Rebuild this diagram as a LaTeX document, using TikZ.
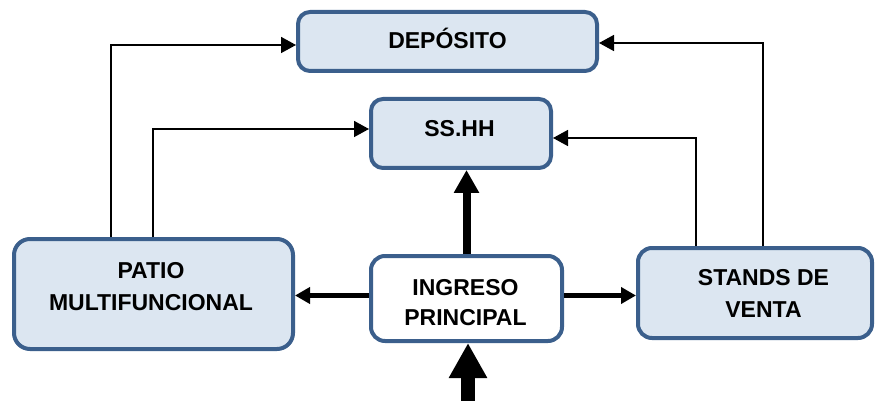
\documentclass[tikz,border=0pt]{standalone}
\usepackage{fontspec}
\setmainfont{Liberation Sans}
\usetikzlibrary{arrows.meta}
\definecolor{boxborder}{HTML}{3B5F8C}
\definecolor{boxfill}{HTML}{DCE6F1}
\tikzset{
  box/.style={draw=boxborder, line width=4pt, fill=boxfill, rounded corners=12pt,
    inner sep=0pt, shape=rectangle},
  whitebox/.style={box, fill=white},
  lbl/.style={inner sep=0pt, anchor=base, align=center},
  thinarrow/.style={draw=black, line width=1.6pt,
    -{Triangle[length=15pt,width=16pt]}},
  midarrow/.style={draw=black, line width=5.5pt,
    -{Triangle[length=15pt,width=16pt]}},
  bigarrow/.style={draw=black, line width=8pt,
    -{Triangle[length=23pt,width=24pt]}},
  hugearrow/.style={draw=black, line width=14pt,
    -{Triangle[length=35pt,width=36pt]}}
}
\begin{document}
\begin{tikzpicture}[x=1pt,y=-1pt,
  every node/.style={font=\fontsize{23}{32}\selectfont\bfseries}]
\useasboundingbox (0,0) rectangle (876,401);
% boxes
\node[box, minimum width=299pt, minimum height=59pt] (DEP) at (447.5,41.5) {};
\node[box, minimum width=180pt, minimum height=69pt] (SS) at (461,133.5) {};
\node[box, minimum width=279pt, minimum height=110pt, rounded corners=16pt] (PATIO) at (153.5,294) {};
\node[whitebox, minimum width=191pt, minimum height=85pt, rounded corners=14pt] (ING) at (466.5,298.5) {};
\node[box, minimum width=234pt, minimum height=90pt, rounded corners=14pt] (STANDS) at (755,293) {};
% labels
\node[lbl] (tDEP) at (447.5,49) {DEPÓSITO};
\node[lbl] (tSS) at (459.5,137) {SS.HH};
\node[lbl] (tPATIO) at (151,310) {PATIO\\MULTIFUNCIONAL};
\node[lbl, font=\fontsize{23}{30}\selectfont\bfseries] (tING) at (465.5,325) {INGRESO\\PRINCIPAL};
\node[lbl] (tSTANDS) at (763.5,317) {STANDS DE\\VENTA};
% thin connectors
\draw[thinarrow] ([xshift=-42.5pt]PATIO.north) |- ([yshift=-3.5pt]DEP.west);
\draw[thinarrow] ([xshift=-0.5pt]PATIO.north) |- ([yshift=4.5pt]SS.west);
\draw[thinarrow] ([xshift=8pt]STANDS.north) |- ([yshift=-1.5pt]DEP.east);
\draw[thinarrow] ([xshift=-59pt]STANDS.north) |- ([yshift=-4.5pt]SS.east);
% thick connectors
\draw[bigarrow] (ING.north) -- (ING.north |- SS.south);
\draw[midarrow] ([yshift=3pt]ING.west) -- ([yshift=3pt]ING.west -| PATIO.east);
\draw[midarrow] ([yshift=3pt]ING.east) -- ([yshift=3pt]ING.east -| STANDS.west);
\coordinate (entry) at (468,410);
\draw[hugearrow] (entry) -- (entry |- ING.south);
\end{tikzpicture}
\end{document}
